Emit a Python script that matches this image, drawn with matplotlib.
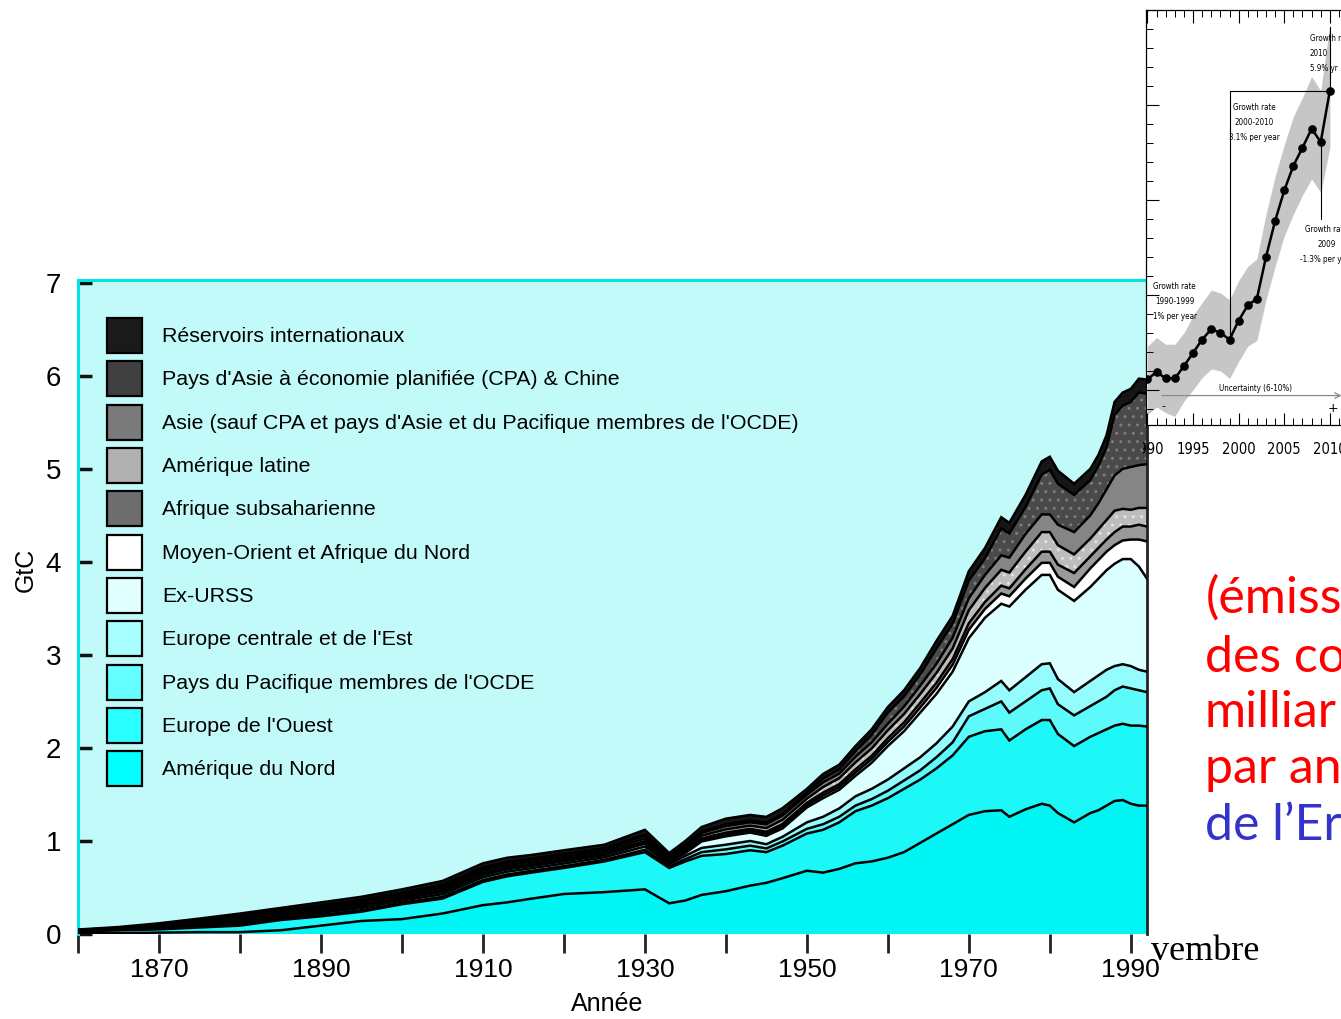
import numpy as np
import matplotlib
matplotlib.use("Agg")
import matplotlib.pyplot as plt
from matplotlib.patches import Patch
from matplotlib.ticker import MultipleLocator
from matplotlib.transforms import Bbox, TransformedBbox

# ---------------- main chart data (GtC per year) ----------------
years = [1860, 1865, 1870, 1875, 1880, 1885, 1890, 1895, 1900, 1905,
         1910, 1913, 1916, 1920, 1925, 1930, 1933, 1935, 1937, 1940,
         1943, 1945, 1947, 1950, 1952, 1954, 1956, 1958, 1960, 1962,
         1964, 1966, 1968, 1970, 1972, 1974, 1975, 1977, 1979, 1980,
         1981, 1983, 1985, 1986, 1987, 1988, 1989, 1990, 1991, 1992]

north_america = [0.010, 0.010, 0.015, 0.020, 0.020, 0.040, 0.090, 0.140, 0.160, 0.220,
                 0.310, 0.340, 0.380, 0.430, 0.450, 0.480, 0.330, 0.360, 0.420, 0.460,
                 0.520, 0.550, 0.600, 0.680, 0.660, 0.700, 0.760, 0.780, 0.820, 0.880,
                 0.980, 1.080, 1.180, 1.280, 1.320, 1.330, 1.260, 1.340, 1.400, 1.380,
                 1.300, 1.200, 1.300, 1.330, 1.380, 1.430, 1.440, 1.400, 1.380, 1.380]
western_europe = [0.020, 0.030, 0.035, 0.050, 0.070, 0.110, 0.100, 0.100, 0.160, 0.160,
                  0.250, 0.280, 0.280, 0.280, 0.330, 0.400, 0.380, 0.420, 0.420, 0.400,
                  0.380, 0.330, 0.350, 0.400, 0.460, 0.500, 0.560, 0.600, 0.640, 0.680,
                  0.680, 0.700, 0.740, 0.840, 0.860, 0.870, 0.820, 0.860, 0.900, 0.920,
                  0.850, 0.820, 0.820, 0.830, 0.820, 0.810, 0.820, 0.840, 0.860, 0.850]
pacific_oecd = [0.002, 0.004, 0.007, 0.010, 0.014, 0.013, 0.015, 0.016, 0.016, 0.019,
                0.020, 0.020, 0.019, 0.019, 0.018, 0.025, 0.018, 0.025, 0.040, 0.050,
                0.050, 0.040, 0.045, 0.050, 0.060, 0.060, 0.060, 0.070, 0.080, 0.090,
                0.100, 0.120, 0.140, 0.220, 0.240, 0.300, 0.300, 0.300, 0.320, 0.340,
                0.320, 0.330, 0.330, 0.340, 0.350, 0.380, 0.400, 0.400, 0.380, 0.370]
central_east_europe = [0.003, 0.005, 0.010, 0.014, 0.020, 0.019, 0.022, 0.024, 0.024, 0.028,
                       0.030, 0.030, 0.028, 0.028, 0.027, 0.035, 0.024, 0.035, 0.045, 0.050,
                       0.050, 0.045, 0.050, 0.070, 0.080, 0.090, 0.100, 0.110, 0.120, 0.130,
                       0.140, 0.150, 0.170, 0.160, 0.180, 0.220, 0.240, 0.260, 0.280, 0.270,
                       0.270, 0.250, 0.270, 0.280, 0.290, 0.260, 0.240, 0.240, 0.220, 0.220]
former_ussr = [0.002, 0.004, 0.008, 0.012, 0.016, 0.016, 0.018, 0.020, 0.020, 0.024,
               0.025, 0.025, 0.024, 0.024, 0.023, 0.030, 0.020, 0.030, 0.070, 0.090,
               0.090, 0.090, 0.090, 0.160, 0.200, 0.200, 0.220, 0.280, 0.360, 0.400,
               0.480, 0.530, 0.590, 0.680, 0.800, 0.830, 0.900, 0.940, 0.960, 0.950,
               0.960, 0.980, 1.010, 1.040, 1.070, 1.100, 1.130, 1.150, 1.110, 1.000]
middle_east_n_africa = [0.001, 0.002, 0.004, 0.006, 0.008, 0.008, 0.009, 0.010, 0.010, 0.012,
                        0.012, 0.012, 0.012, 0.012, 0.011, 0.015, 0.010, 0.013, 0.016, 0.020,
                        0.020, 0.022, 0.024, 0.025, 0.030, 0.030, 0.035, 0.040, 0.045, 0.050,
                        0.055, 0.065, 0.075, 0.090, 0.095, 0.110, 0.110, 0.120, 0.130, 0.130,
                        0.140, 0.150, 0.200, 0.200, 0.200, 0.200, 0.200, 0.210, 0.290, 0.400]
subsaharan_africa = [0.001, 0.002, 0.004, 0.006, 0.008, 0.008, 0.009, 0.010, 0.010, 0.012,
                     0.012, 0.012, 0.012, 0.012, 0.011, 0.015, 0.010, 0.013, 0.016, 0.020,
                     0.020, 0.022, 0.024, 0.025, 0.030, 0.030, 0.035, 0.035, 0.040, 0.045,
                     0.050, 0.055, 0.060, 0.070, 0.075, 0.085, 0.085, 0.100, 0.120, 0.120,
                     0.130, 0.150, 0.130, 0.130, 0.130, 0.140, 0.150, 0.140, 0.160, 0.160]
latin_america = [0.002, 0.004, 0.008, 0.012, 0.016, 0.016, 0.018, 0.018, 0.018, 0.022,
                 0.023, 0.023, 0.022, 0.022, 0.021, 0.028, 0.018, 0.025, 0.030, 0.035,
                 0.035, 0.040, 0.045, 0.045, 0.060, 0.065, 0.075, 0.080, 0.085, 0.090,
                 0.095, 0.105, 0.115, 0.140, 0.150, 0.170, 0.170, 0.190, 0.210, 0.210,
                 0.210, 0.200, 0.190, 0.200, 0.210, 0.230, 0.190, 0.180, 0.180, 0.200]
other_asia = [0.002, 0.004, 0.008, 0.012, 0.016, 0.016, 0.018, 0.018, 0.018, 0.022,
              0.023, 0.023, 0.022, 0.022, 0.021, 0.028, 0.018, 0.025, 0.030, 0.035,
              0.035, 0.040, 0.045, 0.040, 0.050, 0.050, 0.060, 0.065, 0.070, 0.080,
              0.090, 0.100, 0.115, 0.130, 0.140, 0.155, 0.160, 0.190, 0.190, 0.190,
              0.220, 0.240, 0.250, 0.280, 0.330, 0.380, 0.430, 0.460, 0.460, 0.470]
cpa_china = [0.001, 0.002, 0.004, 0.006, 0.008, 0.008, 0.009, 0.010, 0.010, 0.012,
             0.012, 0.012, 0.012, 0.012, 0.011, 0.015, 0.010, 0.013, 0.016, 0.020,
             0.020, 0.020, 0.020, 0.025, 0.040, 0.045, 0.060, 0.080, 0.120, 0.110,
             0.120, 0.165, 0.150, 0.190, 0.180, 0.290, 0.260, 0.290, 0.430, 0.480,
             0.440, 0.400, 0.380, 0.400, 0.450, 0.650, 0.680, 0.700, 0.780, 0.760]
bunkers = [0.004, 0.008, 0.012, 0.018, 0.024, 0.026, 0.032, 0.034, 0.034, 0.039,
           0.043, 0.043, 0.039, 0.039, 0.037, 0.049, 0.032, 0.041, 0.047, 0.060,
           0.060, 0.060, 0.060, 0.040, 0.050, 0.050, 0.055, 0.060, 0.060, 0.065,
           0.070, 0.080, 0.085, 0.100, 0.110, 0.120, 0.115, 0.130, 0.140, 0.140,
           0.140, 0.120, 0.120, 0.120, 0.130, 0.140, 0.140, 0.140, 0.150, 0.150]

region_labels = ["Amérique du Nord", "Europe de l'Ouest",
                 "Pays du Pacifique membres de l'OCDE", "Europe centrale et de l'Est",
                 "Ex-URSS", "Moyen-Orient et Afrique du Nord", "Afrique subsaharienne",
                 "Amérique latine",
                 "Asie (sauf CPA et pays d'Asie et du Pacifique membres de l'OCDE)",
                 "Pays d'Asie à économie planifiée (CPA) & Chine",
                 "Réservoirs internationaux"]

x_tick_years = [1860, 1870, 1880, 1890, 1900, 1910, 1920, 1930, 1940, 1950, 1960, 1970, 1980, 1990]
x_tick_labels = ["", "1870", "", "1890", "", "1910", "", "1930", "", "1950", "", "1970", "", "1990"]
y_ticks = [0, 1, 2, 3, 4, 5, 6, 7]

# ---------------- inset data (PgC per year) ----------------
inset_years = [1990, 1991, 1992, 1993, 1994, 1995, 1996, 1997, 1998, 1999, 2000,
               2001, 2002, 2003, 2004, 2005, 2006, 2007, 2008, 2009, 2010]
inset_emissions = [6.11, 6.19, 6.12, 6.12, 6.25, 6.39, 6.53, 6.64, 6.60, 6.53, 6.73,
                   6.89, 6.96, 7.40, 7.78, 8.10, 8.36, 8.55, 8.75, 8.61, 9.15]
inset_upper = [6.46, 6.55, 6.48, 6.48, 6.60, 6.78, 6.92, 7.05, 7.02, 6.95, 7.15,
               7.30, 7.38, 7.85, 8.25, 8.58, 8.88, 9.08, 9.30, 9.15, 9.85]
inset_lower = [5.74, 5.82, 5.76, 5.72, 5.88, 6.00, 6.13, 6.22, 6.20, 6.12, 6.30,
               6.46, 6.52, 6.95, 7.30, 7.62, 7.85, 8.05, 8.22, 8.08, 8.55]
inset_xticks = [1990, 1995, 2000, 2005, 2010]

# ---------------- styling ----------------
W, H = 1341, 1019
fig = plt.figure(figsize=(W / 100, H / 100), dpi=100)
fig.patch.set_facecolor("white")

bg = "#c2fafa"
fill_colors = ["#00f5f5", "#1cf7f7", "#5cfafa", "#94fcfc", "#dcffff", "#ffffff",
               "#9a9a9a", "#bdbdbd", "#858585", "#4a4a4a", "#161616"]
legend_colors = ["#00ffff", "#2affff", "#66ffff", "#a8ffff", "#e2ffff", "#ffffff",
                 "#6e6e6e", "#b0b0b0", "#7a7a7a", "#404040", "#1a1a1a"]
hatch_colors = [None, None, None, None, None, None, None, "#e2e2e2", None, "#7c7c7c", None]

main_font = ["Liberation Sans", "DejaVu Sans"]

ax = fig.add_axes([78 / W, 1 - 934 / H, (1147 - 78) / W, (934 - 280) / H])
ax.set_facecolor(bg)
ax.set_xlim(1860, 1992)
ax.set_ylim(0, 7.03)

series = [north_america, western_europe, pacific_oecd, central_east_europe, former_ussr,
          middle_east_n_africa, subsaharan_africa, latin_america, other_asia, cpa_china, bunkers]
x = np.array(years, dtype=float)
base = np.zeros(len(years))
for vals, fc, hc in zip(series, fill_colors, hatch_colors):
    top = base + np.array(vals)
    ax.fill_between(x, base, top, facecolor=fc, edgecolor="none", linewidth=0, zorder=1)
    if hc is not None:
        ax.fill_between(x, base, top, facecolor="none", edgecolor=hc, hatch="..",
                        linewidth=0, zorder=1.5)
    base = top
base = np.zeros(len(years))
for vals in series:
    top = base + np.array(vals)
    ax.plot(x, top, color="black", lw=1.8, zorder=3, solid_joinstyle="miter")
    base = top

for s in ["left", "top"]:
    ax.spines[s].set_color("#00e4e4")
    ax.spines[s].set_linewidth(2.2)
ax.spines["right"].set_color("#222222")
ax.spines["right"].set_linewidth(2)
ax.spines["bottom"].set_visible(False)

ax.set_xticks(x_tick_years)
ax.set_xticklabels(x_tick_labels, fontsize=19, family=main_font)
ax.set_yticks(y_ticks)
ax.set_yticklabels([str(v) for v in y_ticks], fontsize=20, family=main_font)
ax.tick_params(axis="x", direction="out", length=14, width=2, pad=3, color="#222222")
ax.tick_params(axis="y", direction="in", length=10, width=2.5, pad=12, color="#111111")

ax.set_xlabel("Année", fontsize=18, family=main_font)
ax.xaxis.set_label_coords(0.495, -0.088)
ax.set_ylabel("GtC", fontsize=18, family=main_font)
ax.yaxis.set_label_coords(-0.038, 0.557)

handles = [Patch(facecolor=c, edgecolor="black", linewidth=1.6) for c in legend_colors]
leg = ax.legend(handles[::-1], region_labels[::-1], loc="upper left",
                bbox_to_anchor=(0.027, 0.942), frameon=False,
                prop={"family": main_font, "size": 15.4},
                handlelength=1.64, handleheight=2.14, labelspacing=0.39,
                handletextpad=0.94, borderpad=0, borderaxespad=0)

# ---------------- inset ----------------
narrow = dict(family="DejaVu Sans", stretch="condensed")
px_per_year = 9.12
x0_year = 1989.84
axi = fig.add_axes([1146 / W, 1 - 425 / H, 214 / W, 415 / H])
axi.set_facecolor("white")
axi.set_xlim(x0_year, x0_year + 214 / px_per_year)
axi.set_ylim(5.63, 10.0)
axi.fill_between(inset_years, inset_lower, inset_upper, color="#c6c6c6", lw=0, zorder=1)
axi.plot(inset_years, inset_emissions, color="black", lw=1.8, marker="o", ms=5.2, zorder=4)

# bracket 2000-2010 and leader lines
axi.plot([inset_years[9], inset_years[9], inset_years[20]],
         [inset_emissions[9], inset_emissions[20], inset_emissions[20]],
         color="black", lw=0.8, zorder=3)
axi.plot([inset_years[19], inset_years[19]], [inset_emissions[19], 7.80],
         color="black", lw=0.8, zorder=3)
axi.plot([inset_years[20], inset_years[20]], [inset_emissions[20], 9.82],
         color="black", lw=0.8, zorder=3)

tfs = 5.8
ls = 1.85
axi.text(1993.0, 6.93, "Growth rate\n1990-1999\n1% per year", ha="center", va="center",
         fontsize=tfs, linespacing=ls, zorder=5, **narrow)
axi.text(2001.7, 8.82, "Growth rate\n2000-2010\n3.1% per year", ha="center", va="center",
         fontsize=tfs, linespacing=ls, zorder=5, **narrow)
axi.text(2007.8, 9.54, "Growth rate\n2010\n5.9% yr", ha="left", va="center",
         fontsize=tfs, linespacing=ls, zorder=5, **narrow)
axi.text(2009.6, 7.53, "Growth rate\n2009\n-1.3% per year", ha="center", va="center",
         fontsize=tfs, linespacing=ls, zorder=5, **narrow)
axi.text(2001.8, 5.97, "Uncertainty (6-10%)", ha="center", va="bottom",
         fontsize=tfs, zorder=5, **narrow)
axi.annotate("", xy=(2011.6, 5.94), xytext=(1991.3, 5.94),
             arrowprops=dict(arrowstyle="->", color="#8a8a8a", lw=0.9), zorder=5)
axi.text(1991.7, 5.83, "-", ha="center", va="center", fontsize=8, zorder=5)
axi.text(2010.3, 5.80, "+", ha="center", va="center", fontsize=9, zorder=5)

for s in axi.spines.values():
    s.set_linewidth(0.9)
    s.set_color("black")
axi.set_xticks(inset_xticks)
axi.set_xticklabels([str(v) for v in inset_xticks], fontsize=10.5, **narrow)
axi.xaxis.set_minor_locator(MultipleLocator(1))
axi.set_yticks([6, 7, 8, 9, 10])
axi.yaxis.set_minor_locator(MultipleLocator(0.2))
axi.tick_params(axis="x", which="major", direction="in", length=9, width=0.8, top=True, pad=12)
axi.tick_params(axis="x", which="minor", direction="in", length=5, width=0.7, top=True)
axi.tick_params(axis="y", which="major", direction="in", length=9, width=0.8, labelleft=False)
axi.tick_params(axis="y", which="minor", direction="in", length=5, width=0.7)
clip = TransformedBbox(Bbox([[1143 / W, 0.0], [1.0, 1.0]]), fig.transFigure)
for lbl in axi.get_xticklabels():
    lbl.set_clip_on(True)
    lbl.set_clip_box(clip)

# ---------------- slide text ----------------
slide_font = ["Lato", "DejaVu Sans"]
fs_slide = 36
fig.text(1206 / W, 1 - 613 / H, "(émiss", color="#ff0000", fontsize=fs_slide, family=slide_font, va="baseline")
fig.text(1205 / W, 1 - 672 / H, "des co", color="#ff0000", fontsize=fs_slide, family=slide_font, va="baseline")
fig.text(1205 / W, 1 - 727 / H, "milliar", color="#ff0000", fontsize=fs_slide, family=slide_font, va="baseline")
fig.text(1205 / W, 1 - 783 / H, "par an", color="#ff0000", fontsize=fs_slide, family=slide_font, va="baseline")
fig.text(1205 / W, 1 - 840 / H, "de l\u2019Er", color="#3333cc", fontsize=fs_slide, family=slide_font, va="baseline")
fig.text(1151 / W, 1 - 960 / H, "vembre", color="black", fontsize=26,
         family=["Liberation Serif", "DejaVu Serif"], va="baseline")

fig.savefig("out.png", dpi=100, facecolor="white")
